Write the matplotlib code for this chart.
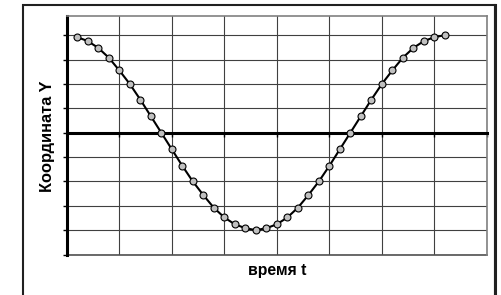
import numpy as np
import matplotlib.pyplot as plt
from matplotlib.patches import Rectangle
from matplotlib.lines import Line2D

plt.rcParams['font.family'] = ['Liberation Sans', 'DejaVu Sans']

# время t
t = [0.2, 0.4, 0.6, 0.8, 1.0, 1.2, 1.4, 1.6, 1.8, 2.0, 2.2, 2.4,
     2.6, 2.8, 3.0, 3.2, 3.4, 3.6, 3.8, 4.0, 4.2, 4.4, 4.6, 4.8,
     5.0, 5.2, 5.4, 5.6, 5.8, 6.0, 6.2, 6.4, 6.6, 6.8, 7.0, 7.2]
# координата Y
y = [0.98, 0.94, 0.87, 0.77, 0.64, 0.50, 0.34, 0.17, 0.00, -0.17, -0.34, -0.50,
     -0.64, -0.77, -0.87, -0.94, -0.98, -1.00, -0.98, -0.94, -0.87, -0.77, -0.64, -0.50,
     -0.34, -0.17, 0.00, 0.17, 0.34, 0.50, 0.64, 0.77, 0.87, 0.94, 0.98, 1.00]

W, H = 502, 295
fig = plt.figure(figsize=(W / 100, H / 100), dpi=100)
ax = fig.add_axes([66.7 / W, 1 - 254.5 / H, (487 - 66.7) / W, (254.5 - 15.7) / H])

ax.plot(t, y, color='black', lw=1.5, marker='o', ms=5,
        mfc='#c0c0c0', mec='black', mew=0.8, zorder=5, clip_on=False)

ax.set_xlim(0, 8)
ax.set_ylim(-1.25, 1.2)
ax.set_xticks(np.arange(0, 9, 1))
ax.set_yticks(np.arange(-1.25, 1.01, 0.25))
ax.grid(True, color='#404040', lw=0.8)
ax.set_axisbelow(True)

ax.spines['bottom'].set_position(('data', 0))
ax.spines['bottom'].set_linewidth(2.2)
ax.spines['left'].set_linewidth(2.2)
ax.spines['bottom'].set_zorder(4)
for s in ['top', 'right']:
    ax.spines[s].set_color('#808080')
    ax.spines[s].set_linewidth(1.2)
ax.axhline(-1.25, color='#505050', lw=1.2, clip_on=False)

ax.tick_params(labelleft=False, labelbottom=False, direction='out',
               length=3, width=1, color='black')

fig.text(48 / W, 1 - 136.5 / H, 'Координата Y', rotation=90, ha='center',
         va='center', fontsize=11.8, fontweight='bold')
fig.text(277.5 / W, 1 - 270 / H, 'время t', ha='center', va='center',
         fontsize=11.3, fontweight='bold')

# внешняя рамка
fig.patches.append(Rectangle((23.3 / W, -0.1), (495 - 23.3) / W, 1.1 - 5 / H,
                             transform=fig.transFigure, fill=False,
                             ec='#202020', lw=1.5))
fig.lines.append(Line2D([495 / W, 495 / W], [-0.1, 1 - 5 / H],
                        transform=fig.transFigure, color='#202020', lw=2.2))

fig.savefig('out.png', dpi=100)
